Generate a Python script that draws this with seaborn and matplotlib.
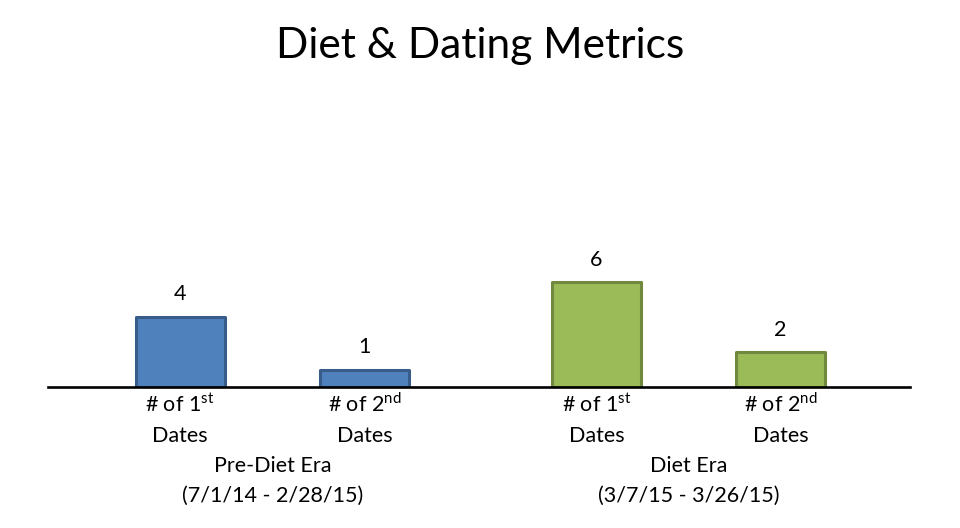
import matplotlib
matplotlib.use("Agg")
import matplotlib.pyplot as plt
import seaborn as sns
import pandas as pd

sns.set_theme(style="white")
plt.rcParams["font.family"] = ["Lato", "DejaVu Sans"]
plt.rcParams["mathtext.fontset"] = "custom"
plt.rcParams["mathtext.rm"] = "Lato"
plt.rcParams["text.color"] = "black"

eras = ["Pre-Diet Era\n(7/1/14 - 2/28/15)", "Diet Era\n(3/7/15 - 3/26/15)"]
metrics = ["# of 1$^{\\mathrm{st}}$\nDates", "# of 2$^{\\mathrm{nd}}$\nDates"]
pre_diet = [4, 1]
diet = [6, 2]

df = pd.DataFrame({
    "era": [eras[0]] * 2 + [eras[1]] * 2,
    "metric": metrics * 2,
    "count": pre_diet + diet,
})

fills = {eras[0]: "#4F81BD", eras[1]: "#9BBB59"}
edges = {eras[0]: "#385D8A", eras[1]: "#71893F"}

fig = plt.figure(figsize=(9.6, 5.28), dpi=100)
ax = fig.add_axes([48 / 960, 141 / 528, 862 / 960, 140 / 528])
sns.barplot(data=df, x="era", y="count", hue="metric", order=eras, hue_order=metrics,
            dodge=True, width=0.885, gap=0.516, legend=False, ax=ax)

fs = 15.5
for c, metric in zip(ax.containers, metrics):
    for p in c:
        cx = p.get_x() + p.get_width() / 2
        era = eras[0] if cx < 0.5 else eras[1]
        p.set_facecolor(fills[era])
        p.set_edgecolor(edges[era])
        p.set_linewidth(2.2)
        p.set_joinstyle("round")
        # metric label under each bar
        for i, line in enumerate(metric.split("\n")):
            ax.annotate(line, xy=(cx, 0), xycoords=("data", "axes fraction"),
                        xytext=(0, -25 - 30 * i), textcoords="offset pixels",
                        ha="center", va="baseline", fontsize=fs, color="black")
    ax.bar_label(c, padding=9, fontsize=fs, color="black")

# era labels under each group
for x, era in enumerate(eras):
    for i, line in enumerate(era.split("\n")):
        ax.annotate(line, xy=(x, 0), xycoords=("data", "axes fraction"),
                    xytext=(0, -85 - 30 * i), textcoords="offset pixels",
                    ha="center", va="baseline", fontsize=fs, color="black")

ax.set_ylim(0, 8)
ax.set_xlim(-0.539, 1.532)
ax.set_yticks([])
ax.set_xticks([])
ax.set_xlabel("")
ax.set_ylabel("")
for s in ["top", "left", "right"]:
    ax.spines[s].set_visible(False)
ax.spines["bottom"].set_color("black")
ax.spines["bottom"].set_linewidth(1.9)
ax.spines["bottom"].set_zorder(3)

fig.text(0.5, 1 - 58 / 528, "Diet & Dating Metrics", fontsize=30.6,
         ha="center", va="baseline", color="black")
fig.savefig("out.png", dpi=100, facecolor="white")
